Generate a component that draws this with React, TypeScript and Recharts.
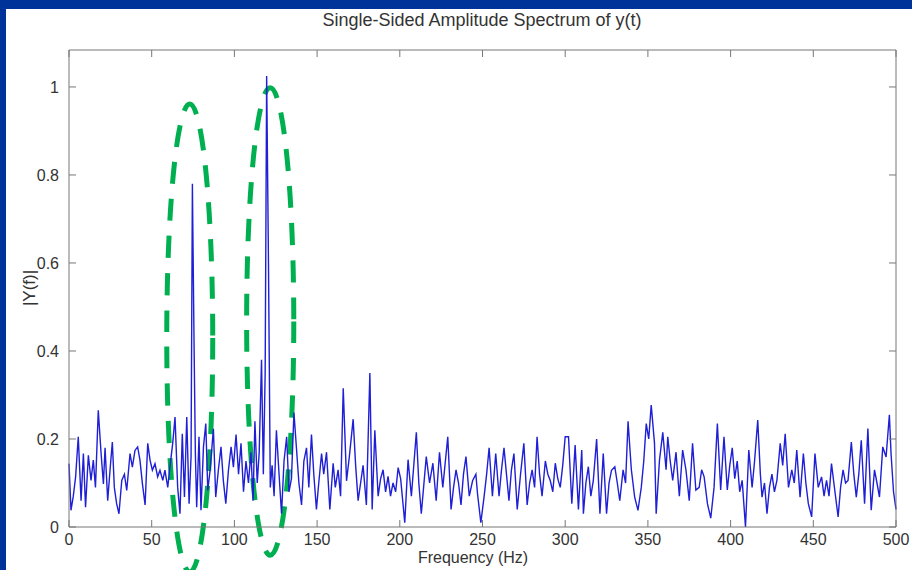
import { LineChart, Line, XAxis, YAxis, ReferenceArea } from "recharts";

// readings, split per 100 Hz band
const freq0to100 = [
  0, 1.2, 2.6, 4, 5.6, 7.3, 8.7, 10, 11.7, 13.3,
  14.7, 16, 17.7, 19.4, 20.8, 21.8, 23.4, 24.8, 26.2, 27.4,
  28.8, 30.2, 31.9, 33.5, 34.9, 36.9, 38.3, 39.9, 41.5, 42.9,
  44.4, 46, 47.6, 49, 50.4, 52, 53.6, 55, 56.7, 58,
  59.7, 61, 62.7, 64.1, 65.7, 67.1, 68.5, 69.8, 71.2, 72.6,
  73.8, 74.6, 75.6, 76.4, 77.2, 78.6, 79.8, 81.3, 82.7, 83.9,
  85.3, 87.3, 88.7, 90.3, 91.9, 93.3, 94.8, 96.4, 98, 99.4,
];
const amp0to100 = [
  0.144, 0.038, 0.07, 0.114, 0.205, 0.06, 0.167, 0.045, 0.163, 0.106,
  0.152, 0.09, 0.265, 0.167, 0.098, 0.18, 0.06, 0.129, 0.193, 0.09,
  0.053, 0.03, 0.106, 0.12, 0.083, 0.167, 0.136, 0.174, 0.182, 0.152,
  0.098, 0.05, 0.19, 0.152, 0.129, 0.144, 0.114, 0.129, 0.106, 0.129,
  0.09, 0.136, 0.19, 0.25, 0.09, 0.03, 0.212, 0.068, 0.25, 0.053,
  0.16, 0.78, 0.42, 0.167, 0.045, 0.205, 0.038, 0.182, 0.235, 0.083,
  0.129, 0.223, 0.068, 0.129, 0.182, 0.106, 0.053, 0.129, 0.182, 0.136,
];

const freq100to200 = [
  101, 102.5, 104, 105.5, 107, 108.5, 110, 111.3, 112.4, 113.8,
  115, 116.4, 117.5, 118.6, 119.5, 120.6, 121.7, 122.8, 124, 125.4,
  127, 128.5, 130, 131.6, 133, 134.5, 136, 137.5, 139, 140.6,
  142, 143.6, 145, 146.6, 148, 149.6, 151, 152.7, 154, 155.7,
  157.7, 159.7, 161, 162.7, 164.2, 165.8, 167.8, 169.5, 171.8, 173.3,
  174.8, 176.3, 177.8, 179.8, 181.9, 183.3, 184.9, 186.9, 188.4, 189.9,
  191.4, 192.9, 194.4, 195.9, 197.5, 199,
];
const amp100to200 = [
  0.21, 0.12, 0.19, 0.08, 0.15, 0.1, 0.17, 0.06, 0.24, 0.1,
  0.17, 0.38, 0.12, 0.35, 1.025, 0.6, 0.09, 0.14, 0.07, 0.22,
  0.12, 0.03, 0.15, 0.205, 0.08, 0.11, 0.26, 0.18, 0.1, 0.05,
  0.15, 0.18, 0.09, 0.21, 0.12, 0.04, 0.1, 0.167, 0.12, 0.17,
  0.04, 0.145, 0.09, 0.13, 0.07, 0.315, 0.105, 0.16, 0.245, 0.14,
  0.06, 0.1, 0.14, 0.05, 0.35, 0.04, 0.22, 0.07, 0.11, 0.13,
  0.08, 0.115, 0.07, 0.1, 0.08, 0.135,
];

const freq200to300 = [
  200.5, 203, 205, 207, 210, 211.5, 213, 216, 218, 220,
  222, 224, 226, 229, 231, 232.5, 234, 235.5, 237, 238.5,
  240, 242, 244, 246, 247, 249, 251, 252.5, 254, 256,
  258, 260, 261.5, 263, 264.5, 266, 267.5, 269, 271, 273,
  275, 277, 278.5, 280, 281.5, 283, 284.5, 286, 288, 289.5,
  291, 292.5, 294, 295.5, 297, 298.5, 300,
];
const amp200to300 = [
  0.11, 0.01, 0.153, 0.07, 0.215, 0.1, 0.03, 0.16, 0.1, 0.145,
  0.06, 0.17, 0.09, 0.205, 0.04, 0.09, 0.13, 0.1, 0.05, 0.12,
  0.16, 0.07, 0.105, 0.12, 0.075, 0.01, 0.07, 0.12, 0.18, 0.07,
  0.167, 0.07, 0.13, 0.18, 0.12, 0.06, 0.13, 0.167, 0.04, 0.12,
  0.19, 0.05, 0.1, 0.13, 0.09, 0.205, 0.12, 0.07, 0.15, 0.12,
  0.105, 0.08, 0.145, 0.11, 0.09, 0.14, 0.205,
];

const freq300to400 = [
  302, 304, 306, 308, 310, 311, 312.5, 314, 315.5, 317,
  319, 321, 323, 325, 326.5, 328, 330, 331.5, 333, 335,
  336.5, 338, 340, 342, 344, 346, 347.5, 349, 350.5, 352,
  354, 355, 357, 359, 361, 362, 363.5, 365, 367, 369,
  371, 373, 375, 377, 379, 381, 382.5, 384, 386, 388,
  390, 392, 394, 396, 398, 399.5,
];
const amp300to400 = [
  0.205, 0.053, 0.186, 0.04, 0.175, 0.03, 0.1, 0.137, 0.07, 0.106,
  0.2, 0.03, 0.167, 0.03, 0.1, 0.129, 0.137, 0.1, 0.06, 0.13,
  0.1, 0.24, 0.13, 0.068, 0.038, 0.09, 0.15, 0.235, 0.2, 0.277,
  0.19, 0.03, 0.152, 0.215, 0.13, 0.205, 0.15, 0.106, 0.17, 0.07,
  0.175, 0.13, 0.06, 0.19, 0.084, 0.09, 0.13, 0.114, 0.053, 0.02,
  0.09, 0.235, 0.084, 0.205, 0.084, 0.14,
];

const freq400to500 = [
  401, 402.5, 404, 405.5, 407, 409, 411, 413, 414.5, 416.4,
  418, 419, 420.5, 422, 423.5, 425, 426.5, 428, 430, 431.5,
  433, 435, 437, 438.5, 440, 442, 444, 445.5, 447, 449,
  451, 453, 455, 456.5, 458, 459.5, 461, 463, 465, 466.5,
  468, 469.5, 471, 473, 474.5, 476, 477.5, 479, 481, 483,
  485, 487, 488.5, 490, 492, 494, 496, 497, 498.5, 500,
];
const amp400to500 = [
  0.18, 0.11, 0.15, 0.08, 0.106, 0.0, 0.175, 0.09, 0.15, 0.243,
  0.12, 0.068, 0.1, 0.03, 0.09, 0.12, 0.08, 0.106, 0.19, 0.14,
  0.212, 0.09, 0.13, 0.1, 0.175, 0.068, 0.167, 0.1, 0.053, 0.023,
  0.167, 0.09, 0.114, 0.07, 0.106, 0.07, 0.144, 0.083, 0.023, 0.09,
  0.13, 0.1, 0.106, 0.193, 0.12, 0.068, 0.12, 0.197, 0.053, 0.224,
  0.038, 0.13, 0.1, 0.068, 0.182, 0.159, 0.255, 0.167, 0.08, 0.04,
];

const xTicks = [0, 50, 100, 150, 200, 250, 300, 350, 400, 450, 500];
const yTicks = [0, 0.2, 0.4, 0.6, 0.8, 1];

// the two hand-drawn rings around the peaks, in data units
const highlights = [
  { f1: 59.1, f2: 86.9, a1: -0.102, a2: 0.961 },
  { f1: 107.4, f2: 135.9, a1: -0.064, a2: 0.998 },
];

const NAVY = "#003399";
const AXIS = "#777";
const TEXT = "#333";
const LINE = "#1f1fd6";
const GREEN = "#00b050";
const FONT = '"Liberation Sans", Arial, Helvetica, sans-serif';

const freqs = [...freq0to100, ...freq100to200, ...freq200to300, ...freq300to400, ...freq400to500];
const amps = [...amp0to100, ...amp100to200, ...amp200to300, ...amp300to400, ...amp400to500];
const data = freqs.map((f, i) => ({ f, amp: amps[i] }));

const BottomTick = ({ x, y, payload }: any) => (
  <g>
    <line x1={x} y1={y} x2={x} y2={y - 7} stroke={AXIS} />
    <text x={x} y={y + 18} textAnchor="middle" fontSize={16} fontFamily={FONT} fill={TEXT}>
      {payload.value}
    </text>
  </g>
);

const LeftTick = ({ x, y, payload }: any) => (
  <g>
    <line x1={x} y1={y} x2={x + 7} y2={y} stroke={AXIS} />
    <text x={x - 10} y={y + 6} textAnchor="end" fontSize={16} fontFamily={FONT} fill={TEXT}>
      {payload.value}
    </text>
  </g>
);

const TopTick = ({ x, y }: any) => <line x1={x} y1={y} x2={x} y2={y + 7} stroke={AXIS} />;
const RightTick = ({ x, y }: any) => <line x1={x} y1={y} x2={x - 7} y2={y} stroke={AXIS} />;

const Ring = ({ x, y, width, height }: any) => (
  <ellipse
    cx={x + width / 2}
    cy={y + height / 2}
    rx={width / 2}
    ry={height / 2}
    fill="none"
    stroke={GREEN}
    strokeWidth={5}
    strokeDasharray="22 15"
  />
);

export default function App() {
  return (
    <div style={{ position: "absolute", left: 0, top: 0, width: 912, height: 570, background: NAVY, overflow: "hidden" }}>
      <div style={{ position: "absolute", left: 6, top: 9, right: 0, bottom: 0, background: "#fff" }} />
      <div style={{ position: "absolute", left: 0, top: 0 }}>
        <LineChart width={912} height={570} data={data} margin={{ top: 49, right: 15, bottom: 0, left: 0 }}>
          <XAxis
            dataKey="f"
            type="number"
            domain={[0, 500]}
            ticks={xTicks}
            interval={0}
            height={43}
            tickSize={0}
            tickMargin={0}
            tick={<BottomTick />}
            axisLine={{ stroke: AXIS }}
          />
          <XAxis
            xAxisId="top"
            dataKey="f"
            type="number"
            orientation="top"
            domain={[0, 500]}
            ticks={xTicks}
            interval={0}
            height={1}
            tickSize={0}
            tickMargin={0}
            tick={<TopTick />}
            axisLine={{ stroke: AXIS }}
          />
          <YAxis
            type="number"
            domain={[0, 1.084]}
            ticks={yTicks}
            interval={0}
            allowDataOverflow
            width={69}
            tickSize={0}
            tickMargin={0}
            tick={<LeftTick />}
            axisLine={{ stroke: AXIS }}
          />
          <YAxis
            yAxisId="right"
            orientation="right"
            type="number"
            domain={[0, 1.084]}
            ticks={yTicks}
            interval={0}
            allowDataOverflow
            width={1}
            tickSize={0}
            tickMargin={0}
            tick={<RightTick />}
            axisLine={{ stroke: AXIS }}
          />
          <Line
            type="linear"
            dataKey="amp"
            stroke={LINE}
            strokeWidth={1.4}
            dot={false}
            activeDot={false}
            isAnimationActive={false}
          />
          {highlights.map((h, i) => (
            <ReferenceArea
              key={i}
              x1={h.f1}
              x2={h.f2}
              y1={h.a1}
              y2={h.a2}
              ifOverflow="visible"
              shape={<Ring />}
            />
          ))}
        </LineChart>
      </div>
      <div style={{ position: "absolute", left: 0, width: 964, top: 10, textAlign: "center", fontFamily: FONT, fontSize: 18, color: TEXT }}>
        Single-Sided Amplitude Spectrum of y(t)
      </div>
      <div style={{ position: "absolute", left: 0, width: 946, top: 549, textAlign: "center", fontFamily: FONT, fontSize: 16, color: TEXT }}>
        Frequency (Hz)
      </div>
      <div
        style={{
          position: "absolute",
          left: 30,
          top: 288,
          transform: "translate(-50%, -50%) rotate(-90deg)",
          fontFamily: FONT,
          fontSize: 17,
          color: TEXT,
          whiteSpace: "nowrap",
        }}
      >
        |Y(f)|
      </div>
    </div>
  );
}
